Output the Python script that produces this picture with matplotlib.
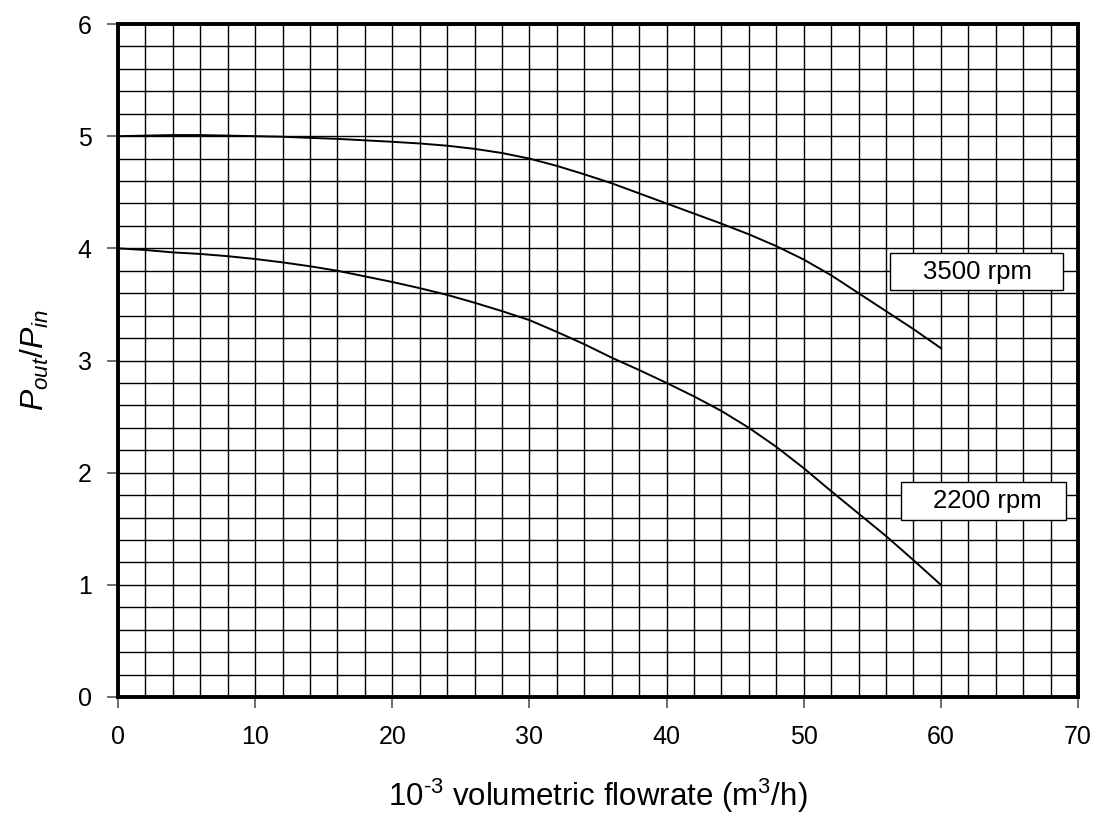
import matplotlib
matplotlib.use("Agg")
import matplotlib.pyplot as plt
from matplotlib.patches import Rectangle
import numpy as np

plt.rcParams['font.family'] = ['Liberation Sans', 'DejaVu Sans']
plt.rcParams['mathtext.fontset'] = 'custom'
plt.rcParams['mathtext.rm'] = 'Liberation Sans'
plt.rcParams['mathtext.it'] = 'Liberation Sans:italic'

flow = [0, 2, 4, 6, 8, 10, 12, 14, 16, 18, 20, 22, 24, 26, 28, 30,
        32, 34, 36, 38, 40, 42, 44, 46, 48, 50, 52, 54, 56, 58, 60]
ratio_3500 = [5.0, 5.005, 5.01, 5.01, 5.005, 5.0, 4.995, 4.985, 4.976, 4.963, 4.95,
              4.935, 4.915, 4.887, 4.85, 4.8, 4.735, 4.66, 4.58, 4.49, 4.40,
              4.31, 4.22, 4.125, 4.02, 3.90, 3.76, 3.60, 3.44, 3.28, 3.11]
ratio_2200 = [4.0, 3.985, 3.964, 3.95, 3.93, 3.905, 3.875, 3.84, 3.80, 3.75, 3.70,
              3.645, 3.585, 3.515, 3.44, 3.36, 3.255, 3.145, 3.025, 2.915, 2.80,
              2.68, 2.55, 2.40, 2.23, 2.04, 1.835, 1.635, 1.435, 1.22, 1.0]
labels = ["3500 rpm", "2200 rpm"]
xticks = [0, 10, 20, 30, 40, 50, 60, 70]
yticks = [0, 1, 2, 3, 4, 5, 6]

fig = plt.figure(figsize=(10.98, 8.17), dpi=100)
ax = fig.add_axes([0.1075, 0.1469, 0.8743, 0.8237])
ax.set_xlim(0, 70)
ax.set_ylim(0, 6)

for xv in np.arange(0, 70.01, 2):
    ax.axvline(xv, color='black', lw=1.0, zorder=1)
for yv in np.arange(0, 6.01, 0.2):
    ax.axhline(yv, color='black', lw=1.0, zorder=1)

ax.plot(flow, ratio_3500, color='black', lw=1.4, zorder=3)
ax.plot(flow, ratio_2200, color='black', lw=1.4, zorder=3)

# label boxes
ax.add_patch(Rectangle((56.3, 3.627), 12.6, 0.33, fc='white', ec='black', lw=1.0, zorder=4))
ax.text(62.65, 3.79, labels[0], ha='center', va='center', fontsize=18.5, zorder=5)
ax.add_patch(Rectangle((57.1, 1.578), 12.0, 0.338, fc='white', ec='black', lw=1.0, zorder=4))
ax.text(63.4, 1.745, labels[1], ha='center', va='center', fontsize=18.5, zorder=5)

ax.set_xticks(xticks)
ax.set_yticks(yticks)
ax.tick_params(axis='both', direction='out', length=8, width=1.2, color='#555555',
               labelsize=18)
ax.tick_params(axis='x', pad=12)
ax.tick_params(axis='y', pad=11)
for s in ax.spines.values():
    s.set_linewidth(2.8)
    s.set_color('black')
    s.set_zorder(6)

ax.set_xlabel(r'10$^{\text{-3}}$ volumetric flowrate (m$^{\mathrm{3}}$/h)', fontsize=22.5, labelpad=20)
ax.set_ylabel(r'$P_{out}/P_{in}$', fontsize=23, labelpad=19)

fig.savefig('out.png', dpi=100)
